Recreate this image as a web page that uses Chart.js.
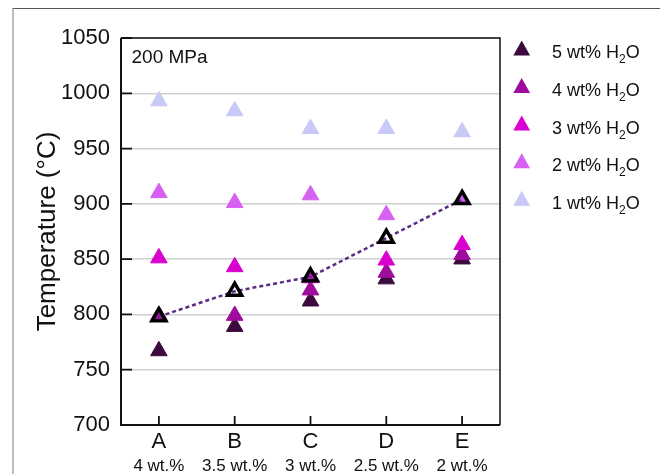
<!DOCTYPE html>
<html><head><meta charset="utf-8">
<script src="https://cdn.jsdelivr.net/npm/chart.js@4.4.1/dist/chart.umd.min.js"></script>
<style>
html,body{margin:0;padding:0;background:#fff;}
#wrap{position:relative;width:660px;height:474px;overflow:hidden;background:#fff;}
#frame{position:absolute;left:12px;top:8px;width:700px;height:520px;border-top:1.5px solid #555;border-left:2px solid #bdbdbd;}
canvas{position:absolute;left:0;top:0;}
</style></head><body>
<div id="wrap"><div id="frame"></div><canvas id="c" width="660" height="474"></canvas></div>
<script>
// ---- data ----
const categories = ['A', 'B', 'C', 'D', 'E'];
const subLabels = ['4 wt.%', '3.5 wt.%', '3 wt.%', '2.5 wt.%', '2 wt.%'];
const yTicks = [700, 750, 800, 850, 900, 950, 1000, 1050];
const h2o5 = [767, 789, 812, 832, 850];
const h2o4 = [799, 799, 822, 838, 854];
const h2o3 = [851, 843, 833, 849, 863];
const h2o2 = [910, 901, 908, 890, 904];
const h2o1 = [993, 984, 968, 968, 965];
const trend = [798, 821, 834, 869, 904];
const seriesNames = ['5 wt% H₂O', '4 wt% H₂O', '3 wt% H₂O', '2 wt% H₂O', '1 wt% H₂O'];
const seriesColors = ['#3d0a3e', '#9e0c9e', '#d900cf', '#d660f2', '#c9c9f7'];
const seriesData = [h2o5, h2o4, h2o3, h2o2, h2o1];
const pressureLabel = '200 MPa';

const FONT = '"Liberation Sans", Arial, sans-serif';

const datasets = seriesData.map((d, i) => ({
  label: seriesNames[i],
  data: d,
  showLine: false,
  pointStyle: 'triangle',
  pointRadius: 9.6,
  pointBorderWidth: 1,
  pointBackgroundColor: seriesColors[i],
  pointBorderColor: seriesColors[i],
  order: 5 - i
}));
datasets.push({
  label: 'trend',
  data: trend,
  showLine: true,
  borderColor: '#5b2c83',
  borderWidth: 2.5,
  borderDash: [4, 3],
  pointStyle: 'triangle',
  pointRadius: 8,
  pointBorderWidth: 3.5,
  pointBorderColor: '#000',
  pointBackgroundColor: 'rgba(0,0,0,0)',
  order: 0
});

const decor = {
  id: 'decor',
  afterDraw(chart) {
    const ctx = chart.ctx;
    const a = chart.chartArea;
    ctx.save();
    // frame
    ctx.strokeStyle = '#111';
    ctx.lineWidth = 1.5;
    ctx.beginPath();
    ctx.moveTo(a.left, a.top); ctx.lineTo(a.right, a.top); ctx.lineTo(a.right, a.bottom);
    ctx.stroke();
    ctx.lineWidth = 2;
    ctx.beginPath();
    ctx.moveTo(a.left, a.top); ctx.lineTo(a.left, a.bottom); ctx.lineTo(a.right, a.bottom);
    ctx.stroke();
    // inward ticks
    const xs = chart.scales.x, ys = chart.scales.y;
    ctx.lineWidth = 1.8;
    ctx.beginPath();
    xs.ticks.forEach((t, i) => { const px = xs.getPixelForTick(i); ctx.moveTo(px, a.bottom); ctx.lineTo(px, a.bottom - 9); });
    ys.ticks.forEach((t, i) => { const py = ys.getPixelForTick(i); ctx.moveTo(a.left, py); ctx.lineTo(a.left + 11, py); });
    ctx.stroke();
    // pressure annotation
    ctx.fillStyle = '#111';
    ctx.font = '19px ' + FONT;
    ctx.textBaseline = 'alphabetic';
    ctx.textAlign = 'left';
    ctx.fillText(pressureLabel, a.left + 10.5, 63.3);
    // legend
    chart.data.datasets.forEach((ds, i) => {
      if (i >= seriesNames.length) return;
      const cy = 48 + i * 37.6;
      const cx = 521.7;
      ctx.fillStyle = ds.pointBackgroundColor;
      ctx.beginPath();
      ctx.moveTo(cx, cy - 7.6);
      ctx.lineTo(cx + 8.4, cy + 7.4);
      ctx.lineTo(cx - 8.4, cy + 7.4);
      ctx.closePath();
      ctx.fill();
      const parts = ds.label.split('₂');
      let x = 552;
      const base = cy + 10.3;
      ctx.fillStyle = '#111';
      ctx.font = '18px ' + FONT;
      ctx.fillText(parts[0], x, base);
      x += ctx.measureText(parts[0]).width;
      ctx.font = '12px ' + FONT;
      ctx.fillText('2', x, base + 5);
      x += ctx.measureText('2').width;
      ctx.font = '18px ' + FONT;
      ctx.fillText(parts[1], x, base);
    });
    ctx.restore();
  }
};

new Chart(document.getElementById('c'), {
  type: 'line',
  data: { labels: categories, datasets },
  options: {
    responsive: false,
    animation: false,
    events: [],
    layout: { padding: { left: 0, right: 160, top: 38, bottom: 0 } },
    plugins: { legend: { display: false }, tooltip: { enabled: false } },
    scales: {
      x: {
        type: 'category',
        position: 'bottom',
        weight: 0,
        offset: true,
        grid: { display: false, drawTicks: false },
        border: { display: false },
        ticks: { color: '#111', font: { family: FONT, size: 22 }, padding: 4, maxRotation: 0 },
        afterFit: (s) => { s.height = 30; }
      },
      x2: {
        type: 'category',
        position: 'bottom',
        weight: 1,
        labels: subLabels,
        offset: true,
        grid: { display: false, drawTicks: false },
        border: { display: false },
        ticks: { color: '#111', font: { family: FONT, size: 17 }, padding: 1, maxRotation: 0, autoSkip: false },
        afterFit: (s) => { s.height = 19; }
      },
      y: {
        min: 700,
        max: 1050,
        afterBuildTicks: (s) => { s.ticks = yTicks.map(v => ({ value: v })); },
        grid: { color: '#d0d0d0', lineWidth: 1.5, drawTicks: false },
        border: { display: false },
        ticks: { color: '#111', font: { family: FONT, size: 22 }, padding: 11, callback: (v) => String(v) },
        title: { display: true, text: 'Temperature (°C)', color: '#111', font: { family: FONT, size: 26 }, padding: { top: 32, bottom: 0 } },
        afterFit: (s) => { s.width = 121; }
      }
    }
  },
  plugins: [decor]
});
</script>
</body></html>
